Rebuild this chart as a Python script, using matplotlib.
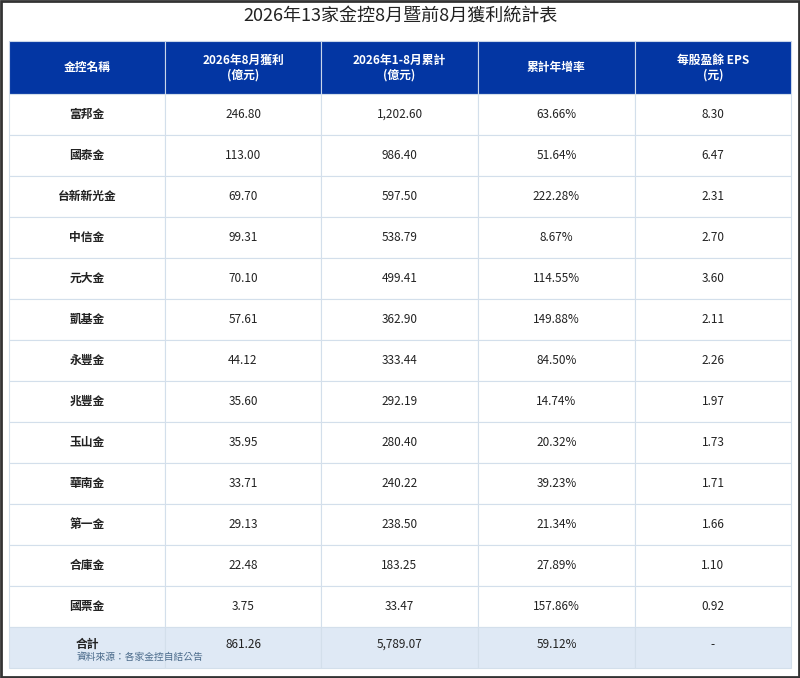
import matplotlib
matplotlib.use("Agg")
import matplotlib.pyplot as plt
from matplotlib.patches import Rectangle

plt.rcParams['font.family'] = ['Noto Sans CJK TC', 'DejaVu Sans']

title = "2026年13家金控8月暨前8月獲利統計表"
headers = ["金控名稱", "2026年8月獲利\n(億元)", "2026年1-8月累計\n(億元)", "累計年增率", "每股盈餘 EPS\n(元)"]
companies = ["富邦金", "國泰金", "台新新光金", "中信金", "元大金", "凱基金", "永豐金",
             "兆豐金", "玉山金", "華南金", "第一金", "合庫金", "國票金"]
aug_profit = ["246.80", "113.00", "69.70", "99.31", "70.10", "57.61", "44.12",
              "35.60", "35.95", "33.71", "29.13", "22.48", "3.75"]
ytd_profit = ["1,202.60", "986.40", "597.50", "538.79", "499.41", "362.90", "333.44",
              "292.19", "280.40", "240.22", "238.50", "183.25", "33.47"]
yoy_growth = ["63.66%", "51.64%", "222.28%", "8.67%", "114.55%", "149.88%", "84.50%",
              "14.74%", "20.32%", "39.23%", "21.34%", "27.89%", "157.86%"]
eps = ["8.30", "6.47", "2.31", "2.70", "3.60", "2.11", "2.26",
       "1.97", "1.73", "1.71", "1.66", "1.10", "0.92"]
total_row = ["合計", "861.26", "5,789.07", "59.12%", "-"]
source = "資料來源：各家金控自結公告"

W, H = 800, 678
fig = plt.figure(figsize=(W / 100, H / 100), dpi=100)
ax = fig.add_axes([0, 0, 1, 1])
ax.set_xlim(0, W)
ax.set_ylim(H, 0)
ax.axis('off')

# outer frame
ax.add_patch(Rectangle((1, 1), W - 2, H - 2, fill=False, ec='#333333', lw=2))
ax.text(W / 2, 17, title, ha='center', va='center', fontsize=13, color='#222222')

col_x = [9, 165, 321, 478, 635, 791]
header_top, header_h, row_h = 41, 53, 41
line_c = '#d3dfeb'

# header
for i, h in enumerate(headers):
    x0, x1 = col_x[i], col_x[i + 1]
    ax.add_patch(Rectangle((x0, header_top), x1 - x0, header_h, fc='#0336a3', ec='#c9d6ea', lw=0.8))
    ax.text((x0 + x1) / 2, header_top + header_h / 2, h, ha='center', va='center',
            fontsize=8.5, color='white', fontweight='bold', linespacing=1.2)

rows = [[c, a, y, g, e] for c, a, y, g, e in zip(companies, aug_profit, ytd_profit, yoy_growth, eps)]
rows.append(total_row)
for r, row in enumerate(rows):
    y0 = header_top + header_h + r * row_h
    is_total = r == len(rows) - 1
    for i, val in enumerate(row):
        x0, x1 = col_x[i], col_x[i + 1]
        ax.add_patch(Rectangle((x0, y0), x1 - x0, row_h, fc='#dfe9f5' if is_total else 'white',
                               ec=line_c, lw=0.8))
        ax.text((x0 + x1) / 2, y0 + row_h / 2 - (3 if is_total else 0), val, ha='center', va='center',
                fontsize=8.5, color='#222222', fontweight='bold' if i == 0 else 'normal')

ax.text(77, 657, source, ha='left', va='center', fontsize=7, color='#4a6a8a')

fig.savefig("out.png", dpi=100)
